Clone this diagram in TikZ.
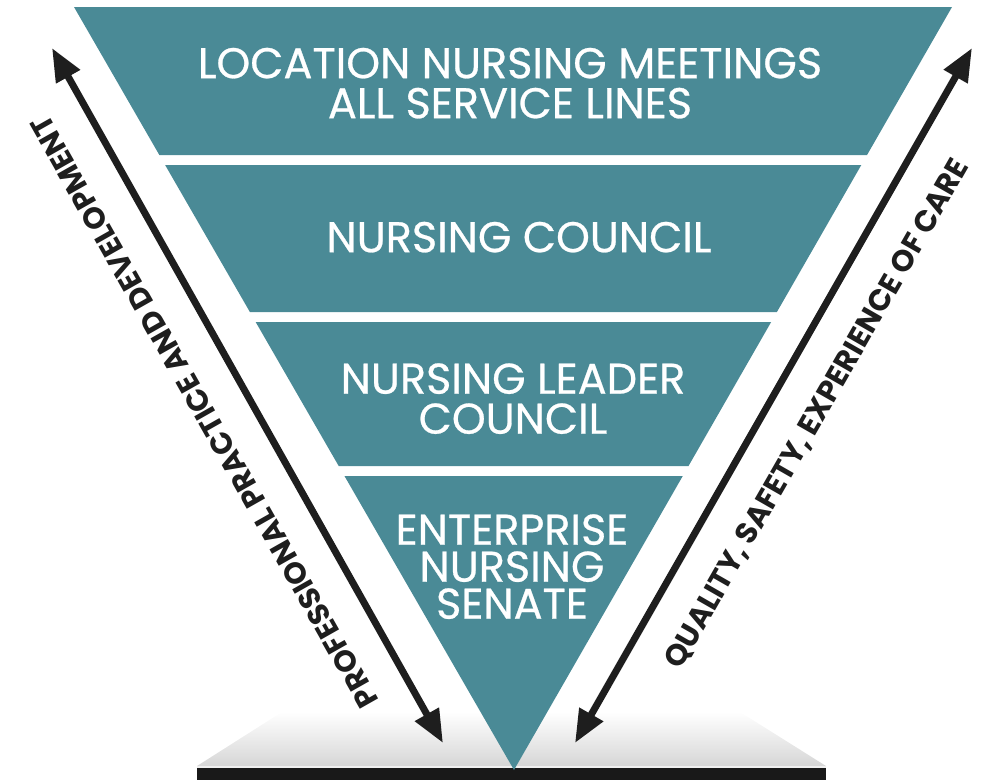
\documentclass[tikz,border=0pt]{standalone}
\usepackage{fontspec}
\setmainfont{Poppins}
\newfontfamily\bandfont{Poppins}[FakeBold=0.6]
\usetikzlibrary{arrows.meta}
\definecolor{tealband}{RGB}{74,138,150}
\definecolor{arrowblack}{RGB}{30,30,30}
\def\band(#1:#2){\fill[tealband] ({74+0.5767*(#1-7)}, #1) -- ({952-0.5741*(#1-7)}, #1) -- ({952-0.5741*(#2-7)}, #2) -- ({74+0.5767*(#2-7)}, #2) -- cycle;}

\begin{document}
\begin{tikzpicture}[x=1pt, y=-1pt,
	bandtext/.style={text=white, align=center, inner sep=0pt, text depth=0pt},
	sidetext/.style={text=arrowblack, inner sep=0pt, text depth=0pt, font=\fontsize{30}{30}\selectfont\bfseries},
	twoway/.style={{Triangle[length=33pt, width=26pt]}-{Triangle[length=33pt, width=26pt]}, line width=7pt, color=arrowblack}]
		%%%%% START %%%%%
		\useasboundingbox (0, 0) rectangle (982, 780);
		
		% platform and base bar
		\shade[top color=white, bottom color=black!16] (282, 712) -- (740, 712) -- (826, 766) -- (197, 766) -- cycle;
		\fill[black!6] (197, 766) rectangle (826, 768);
		\fill[black!90] (197, 768) rectangle (826, 780);
		
		% inverted triangle in four bands
		\band(7:155)
		\band(165:312)
		\band(322:466)
		\band(476:770)
		
		\node[bandtext, font=\bandfont\fontsize{43}{40}\selectfont] (loc) at (510, 83) {LOCATION NURSING MEETINGS\\ALL SERVICE LINES};
		\node[bandtext, font=\bandfont\fontsize{43}{40}\selectfont] (nc) at (519, 237) {NURSING COUNCIL};
		\node[bandtext, font=\bandfont\fontsize{43}{40}\selectfont] (nlc) at (513, 398.5) {NURSING LEADER\\COUNCIL};
		\node[bandtext, font=\bandfont\fontsize{43}{37}\selectfont] (ens) at (512, 566.5) {ENTERPRISE\\NURSING\\SENATE};
		
		% side arrows
		\coordinate (lt) at (52, 48);
		\coordinate (lb) at (443, 743);
		\coordinate (rt) at (972, 48);
		\coordinate (rb) at (575, 743);
		\draw[twoway] (lb) -- (lt);
		\draw[twoway] (rb) -- (rt);
		
		\node[sidetext, rotate=119.5] (ppd) at (204, 412) {PROFESSIONAL PRACTICE AND DEVELOPMENT};
		\node[sidetext, rotate=60.2] (qsc) at (816, 413) {QUALITY, SAFETY, EXPERIENCE OF CARE};
		%%%%% END %%%%%
	\end{tikzpicture}
\end{document}
